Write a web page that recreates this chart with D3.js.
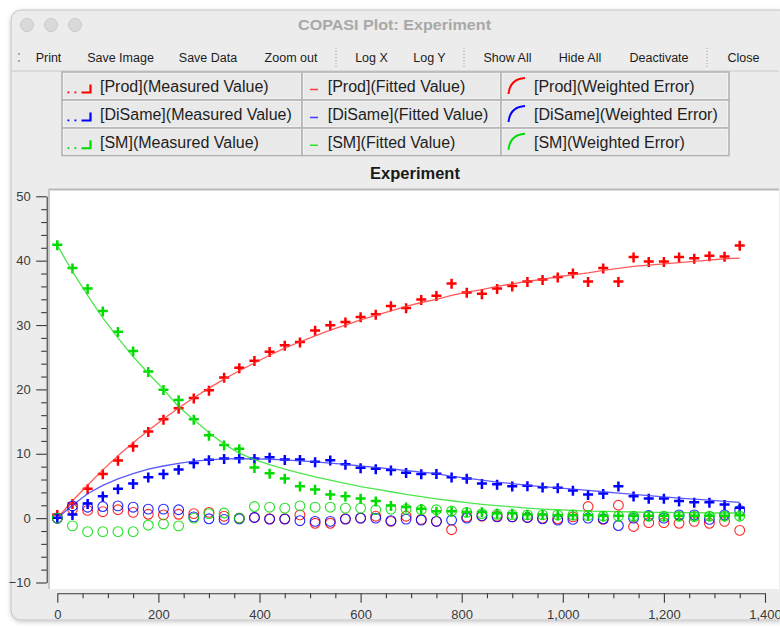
<!DOCTYPE html>
<html>
<head>
<meta charset="utf-8">
<script src="https://cdn.jsdelivr.net/npm/d3@7"></script>
<style>
  html, body { margin: 0; padding: 0; background: #ffffff; }
  svg { display: block; }
  text { font-family: "Liberation Sans", Arial, Helvetica, sans-serif; }
</style>
</head>
<body>
<svg id="chart" width="780" height="628"></svg>
<script>
// ---- data: time course of the parameter-estimation experiment ----
const times = [0, 30, 60, 90, 120, 150, 180, 210, 240, 270, 300, 330, 360, 390, 420, 450,
  480, 510, 540, 570, 600, 630, 660, 690, 720, 750, 780, 810, 840, 870, 900, 930,
  960, 990, 1020, 1050, 1080, 1110, 1140, 1170, 1200, 1230, 1260, 1290, 1320, 1350];

const prodMeasured = [0.5, 2.2, 4.5, 6.8, 8.9, 11.1, 13.4, 15.3, 17.0, 18.6, 19.8, 21.8, 23.3, 24.4, 25.8, 26.8,
  27.3, 29.1, 29.9, 30.4, 31.2, 31.6, 32.9, 32.6, 33.9, 34.5, 36.4, 35.0, 34.8, 35.6, 36.0, 36.7,
  37.0, 37.4, 38.0, 36.7, 38.8, 36.7, 40.5, 39.8, 39.8, 40.5, 40.3, 40.7, 40.6, 42.3];
const prodFitted = [0, 2.7, 5.1, 7.5, 9.7, 11.7, 13.6, 15.4, 17.1, 18.7, 20.2, 21.6, 22.9, 24.1, 25.3, 26.4,
  27.4, 28.3, 29.2, 30.0, 30.8, 31.5, 32.2, 32.9, 33.5, 34.0, 34.6, 35.1, 35.5, 36.0, 36.4, 36.8,
  37.1, 37.5, 37.8, 38.1, 38.5, 38.8, 39.1, 39.3, 39.5, 39.7, 39.9, 40.1, 40.3, 40.4];
const prodError = [0.0, 1.4, 1.2, 1.0, 1.3, 0.9, 0.6, 0.5, 0.6, 0.7, 0.9, 0.3, 0.0, 0.1, -0.1, -0.1,
  0.5, -0.8, -0.8, -0.1, 0.0, 0.3, -0.5, 0.3, -0.2, -0.5, -1.8, 0.2, 0.3, 0.3, 0.2, 0.1,
  0.0, -0.1, 0.2, 1.8, -0.2, 2.0, -1.3, -0.7, -0.7, -0.8, -0.5, -0.8, -0.5, -1.9];

const diSameMeasured = [0.0, 0.5, 2.2, 3.35, 4.5, 5.3, 6.3, 6.8, 7.5, 8.5, 9.0, 9.2, 9.25, 9.2, 9.4, 9.05,
  9.05, 8.7, 8.95, 8.3, 7.75, 7.6, 7.4, 7.0, 6.8, 6.85, 6.3, 6.1, 5.3, 5.2, 4.9, 4.95,
  4.75, 4.65, 4.25, 3.6, 3.75, 4.9, 3.35, 3.0, 3.0, 2.6, 2.4, 2.4, 2.05, 1.55];
const diSameFitted = [0, 2.0, 3.8, 5.1, 6.1, 6.9, 7.6, 8.1, 8.5, 8.85, 9.05, 9.2, 9.25, 9.2, 9.15, 9.05,
  8.9, 8.75, 8.55, 8.35, 8.1, 7.9, 7.65, 7.4, 7.15, 6.9, 6.5, 6.2, 5.9, 5.6, 5.35, 5.1,
  4.9, 4.7, 4.5, 4.3, 4.1, 3.9, 3.7, 3.5, 3.3, 3.1, 2.95, 2.8, 2.6, 2.45];
const diSameError = [0.0, 1.9, 1.7, 1.8, 1.9, 1.7, 1.4, 1.4, 1.3, 0.2, -0.1, -0.2, -0.1, 0.1, -0.15, -0.15,
  -0.4, -0.5, -0.5, -0.15, 0.0, 0.0, -0.4, -0.15, -0.3, -0.5, -0.3, 0.0, 0.4, 0.2, 0.2, 0.1,
  -0.1, -0.3, -0.2, 0.0, -0.1, -1.15, 0.0, 0.4, 0.0, 0.5, 0.5, -0.2, 0.5, 1.2];

const smMeasured = [42.4, 38.8, 35.6, 32.1, 28.9, 25.9, 22.7, 19.9, 18.3, 15.3, 12.8, 11.3, 10.7, 7.8, 6.9, 6.1,
  4.9, 4.4, 3.6, 3.35, 3.0, 2.6, 1.9, 1.65, 1.4, 1.0, 1.0, 0.9, 0.9, 0.7, 0.7, 0.5,
  0.5, 0.4, 0.4, 0.4, 0.3, 0.3, 0.3, 0.3, 0.3, 0.3, 0.3, 0.3, 0.3, 0.4];
const smFitted = [42.4, 38.3, 34.6, 31.1, 28.0, 25.1, 22.5, 20.0, 17.3, 15.3, 13.3, 11.5, 10.1, 9.1, 8.3, 7.6,
  7.0, 6.4, 5.9, 5.4, 4.9, 4.5, 4.1, 3.7, 3.35, 3.0, 2.7, 2.4, 2.15, 1.95, 1.75, 1.55,
  1.4, 1.3, 1.2, 1.1, 1.05, 1.0, 0.95, 0.9, 0.9, 0.85, 0.85, 0.8, 0.8, 0.8];
const smError = [0.0, -1.2, -2.1, -2.1, -2.1, -2.1, -1.1, -0.9, -1.2, 0.0, 0.7, 0.8, 0.0, 1.8, 1.7, 1.55,
  1.9, 1.7, 1.7, 1.55, 1.55, 1.3, 1.4, 1.4, 1.3, 1.3, 1.1, 0.9, 0.7, 0.6, 0.5, 0.5,
  0.5, 0.5, 0.5, 0.4, 0.3, 0.3, 0.3, 0.3, 0.3, 0.3, 0.25, 0.3, 0.3, 0.3];

const speciesNames = ["Prod", "DiSame", "SM"];
const measuredSeries = [prodMeasured, diSameMeasured, smMeasured];
const fittedSeries = [prodFitted, diSameFitted, smFitted];
const errorSeries = [prodError, diSameError, smError];

const xTicks = [0, 200, 400, 600, 800, 1000, 1200, 1400];
const yTicks = [-10, 0, 10, 20, 30, 40, 50];
const windowTitle = "COPASI Plot: Experiment";
const plotTitle = "Experiment";
const toolbarLabels = ["Print", "Save Image", "Save Data", "Zoom out", "|", "Log X", "Log Y", "|",
  "Show All", "Hide All", "Deactivate", "|", "Close"];

// ---- styling / layout ----
const markColors = ["#ff0000", "#0000ff", "#00dc00"];
const lineColors = ["#ff3c3c", "#3c3cff", "#2ee02e"];
const toolbarCenters = [48.5, 120.5, 208, 291, 336, 371.5, 429.5, 464, 507.5, 580, 659, 707, 743.5];
const legendCols = [62, 302, 501, 729];
const legendRows = [72, 100, 128, 155.5];

const svg = d3.select("#chart");

// window frame with soft shadow
const defs = svg.append("defs");
const shadow = defs.append("filter").attr("id", "winShadow")
  .attr("x", "-5%").attr("y", "-5%").attr("width", "110%").attr("height", "110%");
shadow.append("feDropShadow").attr("dx", 0).attr("dy", 1.5).attr("stdDeviation", 2)
  .attr("flood-color", "#000").attr("flood-opacity", 0.22);

svg.append("rect")
  .attr("x", 11).attr("y", 10).attr("width", 778).attr("height", 610)
  .attr("rx", 10).attr("ry", 10)
  .attr("fill", "#ececec").attr("stroke", "#c4c4c4").attr("stroke-width", 1)
  .attr("filter", "url(#winShadow)");

// traffic-light buttons (inactive window)
svg.append("g").selectAll("circle").data([27, 51, 75]).join("circle")
  .attr("cx", d => d).attr("cy", 25).attr("r", 6.5)
  .attr("fill", "#d9d9d9").attr("stroke", "#c2c2c2").attr("stroke-width", 0.8);

svg.append("text")
  .attr("x", 394.5).attr("y", 30)
  .attr("text-anchor", "middle")
  .attr("font-size", 14.5).attr("font-weight", "bold")
  .attr("fill", "#a8a8a8")
  .attr("textLength", 193).attr("lengthAdjust", "spacingAndGlyphs")
  .text(windowTitle);

// toolbar
const tb = svg.append("g");
tb.append("circle").attr("cx", 19).attr("cy", 54).attr("r", 0.9).attr("fill", "#888");
tb.append("circle").attr("cx", 19).attr("cy", 61).attr("r", 0.9).attr("fill", "#888");
toolbarLabels.forEach((lab, i) => {
  const cx = toolbarCenters[i];
  if (lab === "|") {
    tb.append("line").attr("x1", cx).attr("x2", cx).attr("y1", 48).attr("y2", 67)
      .attr("stroke", "#9a9a9a").attr("stroke-width", 1).attr("stroke-dasharray", "1,2");
  } else {
    tb.append("text").attr("x", cx).attr("y", 62)
      .attr("text-anchor", "middle").attr("font-size", 12.5)
      .attr("fill", "#1c1c1c").text(lab);
  }
});
svg.append("line").attr("x1", 11).attr("x2", 779).attr("y1", 71).attr("y2", 71)
  .attr("stroke", "#c8c8c8").attr("stroke-width", 1.2);

// legend table
const legend = svg.append("g");
const kinds = ["Measured Value", "Fitted Value", "Weighted Error"];
speciesNames.forEach((name, r) => {
  const y0 = legendRows[r], y1 = legendRows[r + 1], cy = (y0 + y1) / 2;
  const col = markColors[r];
  kinds.forEach((kind, c) => {
    const x0 = legendCols[c], x1 = legendCols[c + 1];
    legend.append("rect").attr("x", x0).attr("y", y0).attr("width", x1 - x0).attr("height", y1 - y0)
      .attr("fill", "#e9e9e9").attr("stroke", "#b5b5b5").attr("stroke-width", 1.6);
    legend.append("rect").attr("x", x0 + 1.5).attr("y", y0 + 1.5)
      .attr("width", x1 - x0 - 3).attr("height", y1 - y0 - 3)
      .attr("fill", "none").attr("stroke", "#f4f4f4").attr("stroke-width", 0.8);
    let tx;
    if (c === 0) {
      // dotted line ending in a corner mark
      legend.append("rect").attr("x", x0 + 5.5).attr("y", cy + 5.5).attr("width", 1.8).attr("height", 1.8).attr("fill", col);
      legend.append("rect").attr("x", x0 + 12.5).attr("y", cy + 5.5).attr("width", 1.8).attr("height", 1.8).attr("fill", col);
      legend.append("path").attr("d", `M${x0 + 19.5},${cy + 6.5}H${x0 + 28.5}V${cy - 1.5}`)
        .attr("fill", "none").attr("stroke", col).attr("stroke-width", 2.2);
      tx = x0 + 38;
    } else if (c === 1) {
      legend.append("line").attr("x1", x0 + 8).attr("x2", x0 + 16).attr("y1", cy + 3.5).attr("y2", cy + 3.5)
        .attr("stroke", lineColors[r]).attr("stroke-width", 1.5);
      tx = x0 + 25.7;
    } else {
      legend.append("path").attr("d", `M${x0 + 7.5},${cy + 8} Q${x0 + 9},${cy - 7} ${x0 + 24},${cy - 8}`)
        .attr("fill", "none").attr("stroke", col).attr("stroke-width", 2);
      tx = x0 + 33;
    }
    legend.append("text").attr("x", tx).attr("y", cy + 5.8)
      .attr("font-size", 16).attr("fill", "#1e1e1e")
      .text(`[${name}](${kind})`);
  });
});

// plot title
svg.append("text").attr("x", 415).attr("y", 179.3)
  .attr("text-anchor", "middle").attr("font-size", 16.5).attr("font-weight", "bold")
  .attr("fill", "#1a1a1a").text(plotTitle);

// plot canvas
const canvas = { x: 50, y: 190, w: 729, h: 399 };
svg.append("rect").attr("x", canvas.x).attr("y", canvas.y).attr("width", canvas.w).attr("height", canvas.h)
  .attr("fill", "#ffffff");
svg.append("line").attr("x1", canvas.x - 1).attr("x2", canvas.x + canvas.w).attr("y1", canvas.y - 0.5).attr("y2", canvas.y - 0.5)
  .attr("stroke", "#b9b9b9").attr("stroke-width", 2);
svg.append("line").attr("x1", canvas.x - 1).attr("x2", canvas.x - 1).attr("y1", canvas.y - 1.5).attr("y2", canvas.y + canvas.h)
  .attr("stroke", "#c9c9c9").attr("stroke-width", 2);

defs.append("clipPath").attr("id", "plotClip").append("rect")
  .attr("x", canvas.x).attr("y", canvas.y).attr("width", canvas.w).attr("height", canvas.h);

// scales
const x = d3.scaleLinear().domain([0, 1400]).range([57.3, 765]);
const y = d3.scaleLinear().domain([-10, 50]).range([582.5, 196.3]);

// axes
const yAxisG = svg.append("g").attr("transform", "translate(46.7,0)");
yAxisG.call(d3.axisLeft(y).tickValues(yTicks).tickSize(10.5).tickSizeOuter(0).tickPadding(5.5));
yAxisG.append("g").call(
  d3.axisLeft(y).tickValues(d3.range(-10, 51, 2).filter(v => v % 10 !== 0)).tickSize(5.5).tickFormat("").tickSizeOuter(0)
).select(".domain").remove();

const xAxisG = svg.append("g").attr("transform", "translate(0,593.3)");
xAxisG.call(d3.axisBottom(x).tickValues(xTicks).tickSize(9.5).tickSizeOuter(0).tickPadding(7).tickFormat(d3.format(",")));
xAxisG.append("g").call(
  d3.axisBottom(x).tickValues(d3.range(0, 1401, 50).filter(v => v % 200 !== 0)).tickSize(5).tickFormat("").tickSizeOuter(0)
).select(".domain").remove();

[yAxisG, xAxisG].forEach(g => {
  g.selectAll("path.domain").attr("stroke", "#3a3a3a").attr("stroke-width", 1.1);
  g.selectAll(".tick line").attr("stroke", "#3a3a3a").attr("stroke-width", 1.1);
  g.selectAll(".tick text").attr("font-size", 13).attr("fill", "#3a3a3a")
    .attr("font-family", "\"Liberation Sans\", Arial, sans-serif");
});

// curves
const plot = svg.append("g").attr("clip-path", "url(#plotClip)");
const line = d3.line().x(d => x(d.t)).y(d => y(d.v));

speciesNames.forEach((name, i) => {
  const measured = times.map((t, k) => ({ t, v: measuredSeries[i][k] }));
  const fitted = times.map((t, k) => ({ t, v: fittedSeries[i][k] }));
  const errors = times.map((t, k) => ({ t, v: errorSeries[i][k] }));

  plot.append("g").selectAll("path").data(measured).join("path")
    .attr("d", d => {
      const px = x(d.t), py = y(d.v);
      return `M${px - 5},${py - 0.4}H${px + 5}M${px},${py - 5}V${py + 5}`;
    })
    .attr("fill", "none").attr("stroke", markColors[i]).attr("stroke-width", 2.5);

  plot.append("path").datum(fitted)
    .attr("d", line)
    .attr("fill", "none").attr("stroke", lineColors[i])
    .attr("stroke-width", 1.3).attr("stroke-opacity", 0.85);

  plot.append("g").selectAll("circle").data(errors).join("circle")
    .attr("cx", d => x(d.t)).attr("cy", d => y(d.v)).attr("r", 4.9)
    .attr("fill", "none").attr("stroke", markColors[i]).attr("stroke-width", 1.1)
    .attr("stroke-opacity", 0.85);
});
</script>
</body>
</html>
